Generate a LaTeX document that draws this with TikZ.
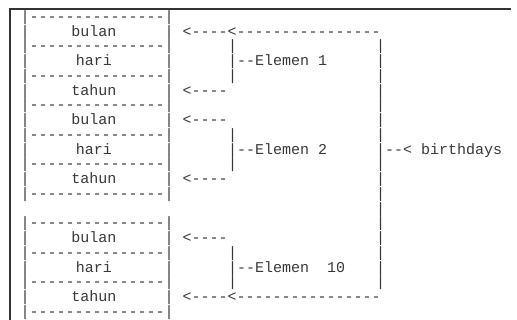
\documentclass[tikz,border=0pt]{standalone}
\usepackage{fontspec}
\setmonofont{Liberation Mono}

\definecolor{ink}{gray}{0.22}
\definecolor{rimgray}{gray}{0.2}

\begin{document}
\begin{tikzpicture}[
    x=1pt, y=-1pt,
    ascii/.style={font=\ttfamily\fontsize{15}{15}\selectfont, text=ink, inner sep=0pt, anchor=base west},
    fieldtxt/.style={ascii, anchor=base},
    rim/.style={draw=rimgray, line width=1.6pt}
]
\useasboundingbox (0,0) rectangle (517,320);

% window frame
\draw[rim] (10,320) -- (10,9) -- (511,9);

% record boxes
\foreach \k in {0,2,4,6,8,10,12,14,16,18,20} {
    \pgfmathsetmacro\yb{21.5+14.75*\k}
    \node[ascii] (sep\k) at (20.5,\yb) {|---------------|};
}
\foreach \k/\fld in {1/bulan,3/hari,5/tahun,7/bulan,9/hari,11/tahun,15/bulan,17/hari,19/tahun} {
    \pgfmathsetmacro\yb{21.5+14.75*\k}
    \node[ascii] (fl\k) at (20.5,\yb) {|};
    \node[fieldtxt] (fld\k) at (94,\yb) {\fld};
    \node[ascii] (fr\k) at (164.5,\yb) {|};
}

% pointers to the fields
\foreach \k in {5,7,11,15} {
    \pgfmathsetmacro\yb{21.5+14.75*\k}
    \node[ascii] (arr\k) at (182.5,\yb) {<----};
}
\foreach \k in {1,19} {
    \pgfmathsetmacro\yb{21.5+14.75*\k}
    \node[ascii] (arr\k) at (182.5,\yb) {<----<----------------};
}

% element brackets
\foreach \k in {2,4,8,10,16,18} {
    \pgfmathsetmacro\yb{21.5+14.75*\k}
    \node[ascii] (vin\k) at (228,\yb) {|};
}
\node[ascii] (el1) at (228,{21.5+14.75*3}) {|--Elemen 1};
\node[ascii] (el2) at (228,{21.5+14.75*9}) {|--Elemen 2};
\node[ascii] (el10) at (228,{21.5+14.75*17}) {|--Elemen\ \ 10};

% array bracket
\foreach \k in {2,3,4,5,6,7,8,10,11,12,13,14,15,16,17,18} {
    \pgfmathsetmacro\yb{21.5+14.75*\k}
    \node[ascii] (vout\k) at (376,\yb) {|};
}
\node[ascii] (arrname) at (376,{21.5+14.75*9}) {|--< birthdays};

\end{tikzpicture}
\end{document}
